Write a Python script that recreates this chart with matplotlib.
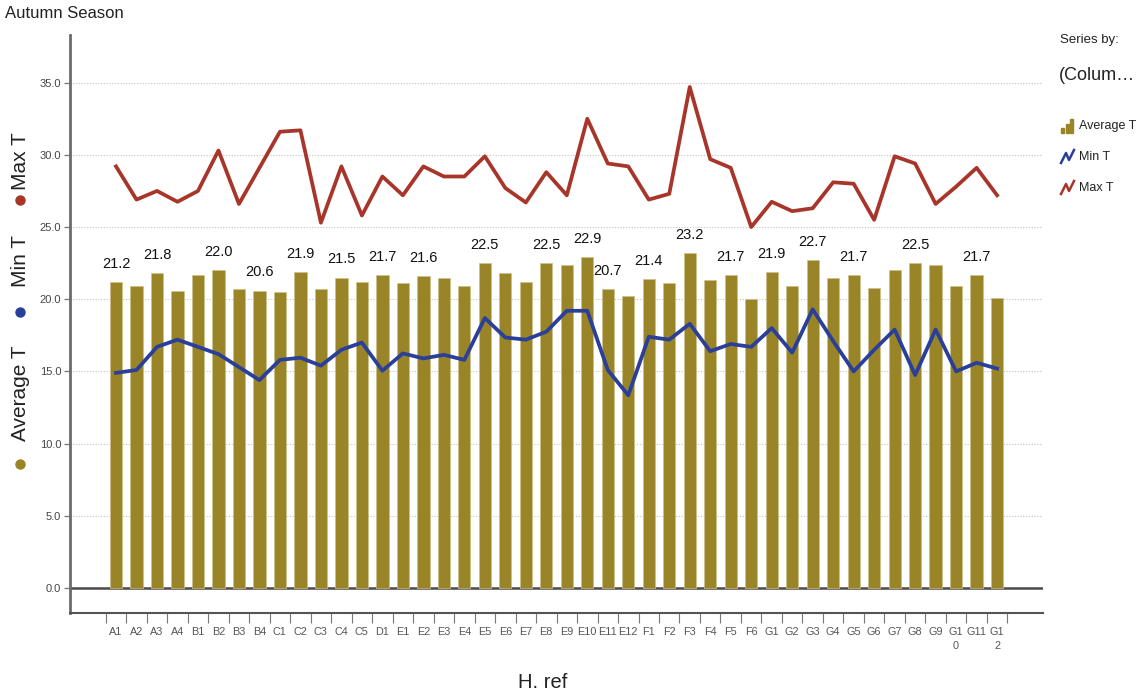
import numpy as np
import matplotlib
matplotlib.use("Agg")
import matplotlib.pyplot as plt
from matplotlib.patches import Rectangle
from matplotlib.lines import Line2D

# ---- data -----------------------------------------------------------------
categories = ["A1", "A2", "A3", "A4", "B1", "B2", "B3", "B4",
              "C1", "C2", "C3", "C4", "C5", "D1",
              "E1", "E2", "E3", "E4", "E5", "E6", "E7", "E8", "E9", "E10", "E11", "E12",
              "F1", "F2", "F3", "F4", "F5", "F6",
              "G1", "G2", "G3", "G4", "G5", "G6", "G7", "G8", "G9", "G10", "G11", "G12"]

tick_labels = [c if c not in ("G10", "G12") else c[:2] + "\n" + c[2:] for c in categories]

average_t = [21.2, 20.9, 21.8, 20.6, 21.7, 22.0, 20.7, 20.6,
             20.5, 21.9, 20.7, 21.5, 21.2, 21.7,
             21.1, 21.6, 21.5, 20.9, 22.5, 21.8, 21.2, 22.5, 22.4, 22.9, 20.7, 20.2,
             21.4, 21.1, 23.2, 21.3, 21.7, 20.0,
             21.9, 20.9, 22.7, 21.5, 21.7, 20.8, 22.0, 22.5, 22.4, 20.9, 21.7, 20.1]

min_t = [14.9, 15.1, 16.7, 17.2, 16.7, 16.2, 15.3, 14.4,
         15.8, 15.95, 15.4, 16.5, 17.0, 15.05,
         16.25, 15.9, 16.15, 15.8, 18.7, 17.35, 17.2, 17.75, 19.2, 19.2, 15.1, 13.35,
         17.4, 17.2, 18.3, 16.4, 16.9, 16.7,
         18.0, 16.3, 19.3, 17.1, 15.0, 16.5, 17.9, 14.75, 17.9, 15.0, 15.6, 15.2]

max_t = [29.2, 26.9, 27.5, 26.75, 27.5, 30.3, 26.6, 29.1,
         31.6, 31.7, 25.3, 29.2, 25.8, 28.5,
         27.2, 29.2, 28.5, 28.5, 29.9, 27.7, 26.7, 28.8, 27.2, 32.5, 29.4, 29.2,
         26.9, 27.3, 34.7, 29.7, 29.1, 25.0,
         26.75, 26.1, 26.3, 28.1, 28.0, 25.5, 29.9, 29.4, 26.6, 27.8, 29.1, 27.2]

labelled = ["A1", "A3", "B2", "B4", "C2", "C4", "D1", "E2", "E5", "E8", "E10",
            "E11", "F1", "F3", "F5", "G1", "G3", "G5", "G8", "G11"]

y_ticks = [0, 5, 10, 15, 20, 25, 30, 35]

# ---- style ----------------------------------------------------------------
BAR = "#9a8428"
BLUE = "#2a3f9a"
RED = "#a8352a"
FONT = ["Liberation Sans", "DejaVu Sans"]

W, H = 1141, 695
fig = plt.figure(figsize=(W / 100, H / 100), dpi=100)


def px(x, y):
    """Pixel position (from top-left) to figure fraction."""
    return x / W, 1 - y / H


ax_left, ax_right, ax_top, ax_bottom = 69.5, 1043, 35, 613
ax = fig.add_axes([ax_left / W, 1 - ax_bottom / H,
                   (ax_right - ax_left) / W, (ax_bottom - ax_top) / H])

x = np.arange(len(categories))

ax.bar(x, average_t, width=0.6, color=BAR, edgecolor="#cfc088",
       linewidth=0.5, zorder=2)
ax.plot(x, min_t, color=BLUE, lw=2.7, zorder=3, solid_joinstyle="round")
ax.plot(x, max_t, color=RED, lw=2.7, zorder=3, solid_joinstyle="round")

for name in labelled:
    i = categories.index(name)
    ax.annotate(f"{average_t[i]:.1f}", (i, average_t[i]), xytext=(0, 8),
                textcoords="offset points", ha="center", va="bottom",
                fontsize=10.5, family=FONT, color="#111111", zorder=4)

ax.set_xlim(-2.27, 45.24)
ax.set_ylim(-1.73, 38.3)

# horizontal grid
for t in y_ticks:
    if t == 0:
        ax.axhline(t, color="#4a4a4a", lw=1.8, zorder=1)
    else:
        ax.axhline(t, color="#c4c4c4", lw=0.8, ls=(0, (1, 1.5)), zorder=1)

ax.set_yticks(y_ticks)
ax.set_yticklabels([f"{t:.1f}" for t in y_ticks], family=FONT,
                   fontsize=8, color="#444444")
ax.tick_params(axis="y", length=4, width=0.9, color="#777777", pad=2)

ax.set_xticks(np.arange(len(categories) + 1) - 0.5)
ax.set_xticklabels([])
ax.tick_params(axis="x", which="major", length=7, width=0.8, color="#777777")
ax.set_xticks(x, minor=True)
ax.set_xticklabels(tick_labels, minor=True, family=FONT, fontsize=7.8,
                   color="#555555", linespacing=1.5, va="top")
ax.tick_params(axis="x", which="minor", length=0, pad=10)

for side in ("top", "right"):
    ax.spines[side].set_visible(False)
ax.spines["left"].set_color("#6b6b6b")
ax.spines["left"].set_linewidth(2)
ax.spines["bottom"].set_color("#555555")
ax.spines["bottom"].set_linewidth(1.5)

# titles
fig.text(*px(5, 14), "Autumn Season", family=FONT, fontsize=12,
         color="#222222", ha="left", va="center")
fig.text(*px(543, 683), "H. ref", family=FONT, fontsize=14.5,
         color="#222222", ha="center", va="center")

# rotated series key on the y side
for label, color, text_y, dot_y in [("Average T", BAR, 393, 464),
                                    ("Min T", BLUE, 261, 312),
                                    ("Max T", RED, 161, 200)]:
    fig.text(*px(21, text_y), label, rotation=90, family=FONT, fontsize=15,
             color="#222222", ha="center", va="center")
    fig.add_artist(Line2D([px(20, dot_y)[0]], [px(20, dot_y)[1]], marker="o",
                          markersize=6.5, color=color, transform=fig.transFigure))

# legend at the right
fig.text(*px(1060, 40), "Series by:", family=FONT, fontsize=9.5,
         color="#222222", ha="left", va="center")
fig.text(*px(1059, 75), "(Colum\u2026", family=FONT, fontsize=13,
         color="#222222", ha="left", va="center")

for k, h in enumerate([5, 9, 14]):
    x0, y0 = px(1061 + k * 4.5, 133)
    fig.add_artist(Rectangle((x0, y0), 3.3 / W, h / H, color=BAR,
                             transform=fig.transFigure))
for color, yc in [(BLUE, 157), (RED, 188)]:
    pts = [px(1061, yc + 6), px(1066, yc - 4), px(1069, yc + 3), px(1074, yc - 7)]
    fig.add_artist(Line2D([p[0] for p in pts], [p[1] for p in pts], color=color,
                          lw=1.8, transform=fig.transFigure))
for label, yc in [("Average T", 126), ("Min T", 157), ("Max T", 188)]:
    fig.text(*px(1079, yc), label, family=FONT, fontsize=9,
             color="#222222", ha="left", va="center")

fig.savefig("out.png", dpi=100)
